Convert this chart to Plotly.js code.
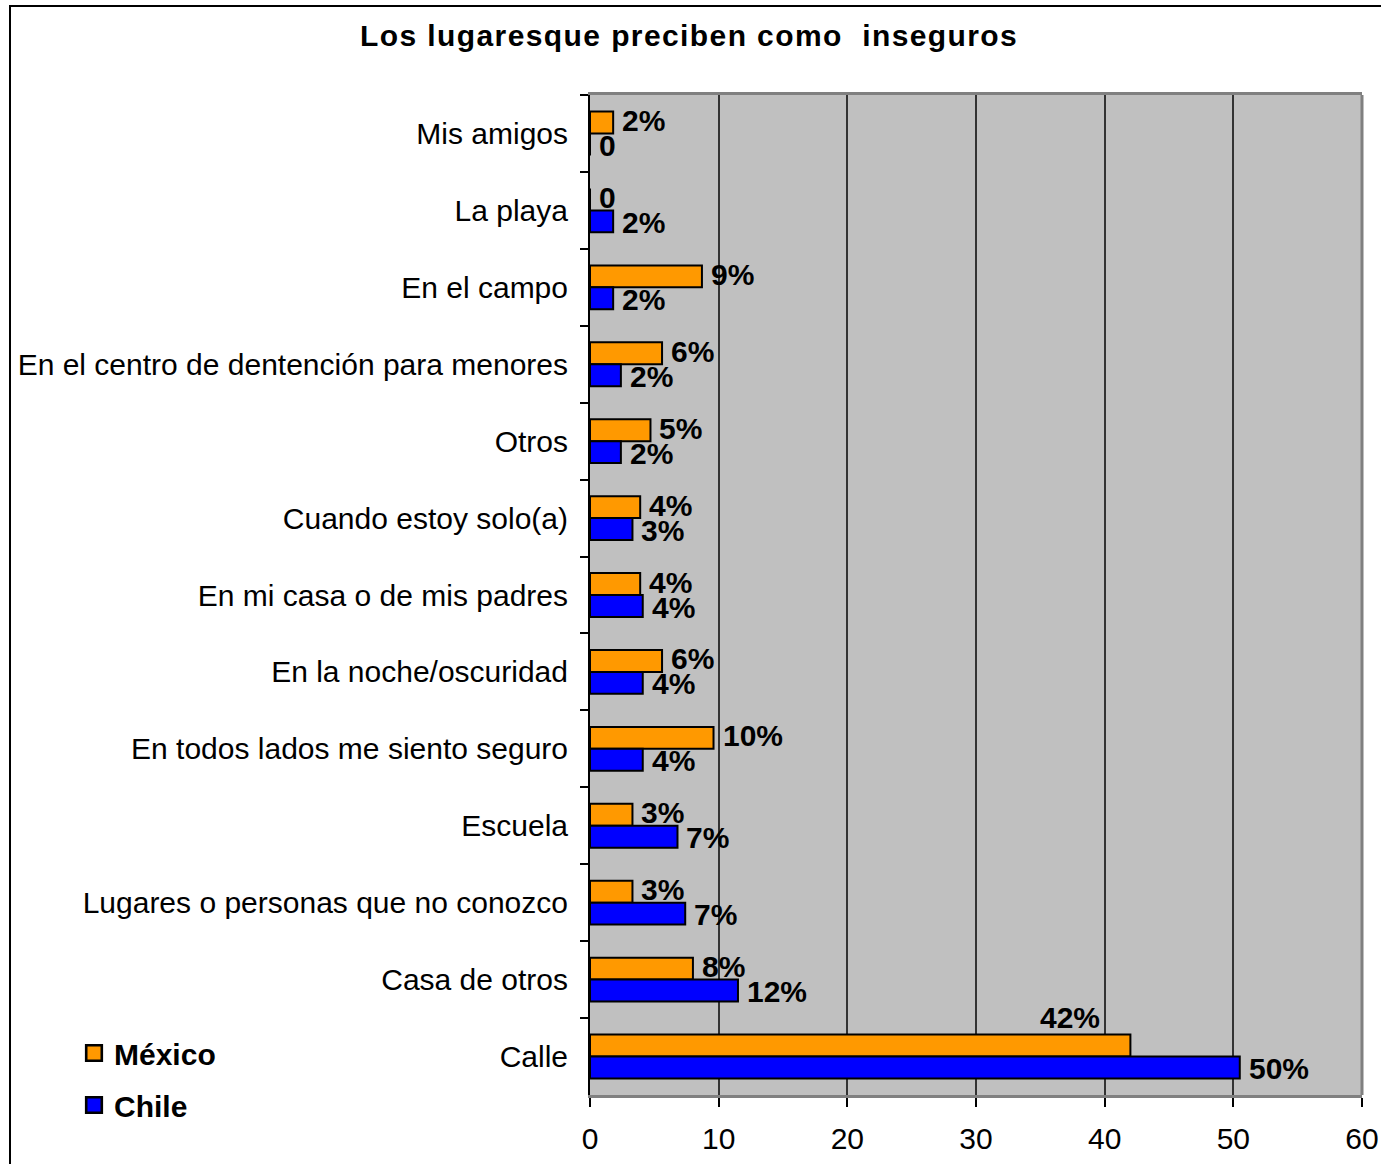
<!DOCTYPE html>
<html>
<head>
<meta charset="utf-8">
<script src="https://cdn.plot.ly/plotly-3.0.1.min.js"></script>
<style>
  html, body { margin: 0; padding: 0; background: #fff; }
  #wrap { position: relative; width: 1381px; height: 1164px; }
  #chart { width: 1381px; height: 1164px; }
  #frame { position: absolute; left: 9px; top: 5px; width: 1400px; height: 1200px;
           border-left: 2px solid #000; border-top: 2px solid #000; pointer-events: none; }
  .gtitle { letter-spacing: 1.4px; }
</style>
</head>
<body>
<div id="wrap">
  <div id="chart"></div>
  <div id="frame"></div>
</div>
<script>
const categories = [
  "Mis amigos",
  "La playa",
  "En el campo",
  "En el centro de dentención para menores",
  "Otros",
  "Cuando estoy solo(a)",
  "En mi casa o de mis padres",
  "En la noche/oscuridad",
  "En todos lados me siento seguro",
  "Escuela",
  "Lugares o personas que no conozco",
  "Casa de otros",
  "Calle"
];
const mexicoValues = [1.8, 0, 8.7, 5.6, 4.7, 3.9, 3.9, 5.6, 9.6, 3.3, 3.3, 8.0, 42.0];
const chileValues  = [0, 1.8, 1.8, 2.4, 2.4, 3.3, 4.1, 4.1, 4.1, 6.8, 7.4, 11.5, 50.5];
const mexicoLabels = ["2%", "0", "9%", "6%", "5%", "4%", "4%", "6%", "10%", "3%", "3%", "8%", "42%"];
const chileLabels  = ["0", "2%", "2%", "2%", "2%", "3%", "4%", "4%", "4%", "7%", "7%", "12%", "50%"];
const xTicks = [0, 10, 20, 30, 40, 50, 60];

const FONT = "Liberation Sans, Arial, sans-serif";
const lineStyle = { color: "#000", width: 2 };

const traces = [
  {
    type: "bar", orientation: "h", name: "México",
    y: categories, x: mexicoValues,
    marker: { color: "#FF9900", line: lineStyle },
    legend: "legend", hoverinfo: "x+y"
  },
  {
    type: "bar", orientation: "h", name: "Chile",
    y: categories, x: chileValues,
    marker: { color: "#0000FF", line: lineStyle },
    legend: "legend2", hoverinfo: "x+y"
  }
];

const annotations = [];
const labelFont = { family: FONT, size: 30, color: "#000", weight: "bold" };
categories.forEach((c, i) => {
  const isLast = i === categories.length - 1;
  annotations.push({
    x: mexicoValues[i], y: c, xref: "x", yref: "y",
    text: "<b>" + mexicoLabels[i] + "</b>", showarrow: false,
    xanchor: isLast ? "right" : "left",
    xshift: isLast ? -28 : 7,
    yshift: isLast ? 39 : 13,
    font: labelFont
  });
  annotations.push({
    x: chileValues[i], y: c, xref: "x", yref: "y",
    text: "<b>" + chileLabels[i] + "</b>", showarrow: false,
    xanchor: "left", xshift: 7, yshift: -12,
    font: labelFont
  });
});

const layout = {
  width: 1381, height: 1164,
  paper_bgcolor: "rgba(0,0,0,0)",
  plot_bgcolor: "#C0C0C0",
  margin: { l: 590, r: 19, t: 95, b: 69, pad: 0 },
  font: { family: FONT, size: 30, color: "#000" },
  title: {
    text: "<b>Los lugaresque preciben como  inseguros</b>",
    x: 0.499, xref: "container", xanchor: "center",
    y: 1 - 35 / 1164, yref: "container", yanchor: "middle",
    font: { family: FONT, size: 30, color: "#000" }
  },
  barmode: "group",
  bargap: 0.43,
  bargroupgap: 0,
  xaxis: {
    range: [0, 60],
    tickvals: xTicks,
    ticktext: xTicks.map(String),
    showgrid: true, gridcolor: "#333", gridwidth: 1.5,
    zeroline: false,
    showline: true, linecolor: "#808080", linewidth: 3, mirror: true,
    ticks: "outside", ticklen: 9, tickcolor: "#000", tickwidth: 1.5,
    ticklabelstandoff: 6,
    tickfont: { family: FONT, size: 30, color: "#000" },
    fixedrange: true
  },
  yaxis: {
    type: "category",
    range: [categories.length - 0.5, -0.5],
    autorange: false,
    tickson: "boundaries",
    ticks: "outside", ticklen: 8, tickcolor: "#000", tickwidth: 1.5,
    showgrid: false, zeroline: false,
    showline: true, linecolor: "#000", linewidth: 2,
    ticklabelstandoff: 14,
    tickfont: { family: FONT, size: 30, color: "#000" },
    fixedrange: true
  },
  shapes: [
    { type: "line", xref: "paper", yref: "paper", x0: 1, x1: 1, y0: 0, y1: 1,
      line: { color: "#808080", width: 3 }, layer: "above" }
  ],
  showlegend: true,
  legend: {
    x: (74 - 590) / 772, xanchor: "left",
    y: (1095 - 1053) / 1000, yanchor: "middle",
    bgcolor: "rgba(0,0,0,0)", borderwidth: 0,
    font: { family: FONT, size: 30, color: "#000", weight: "bold" },
    itemclick: false, itemdoubleclick: false
  },
  legend2: {
    x: (74 - 590) / 772, xanchor: "left",
    y: (1095 - 1105) / 1000, yanchor: "middle",
    bgcolor: "rgba(0,0,0,0)", borderwidth: 0,
    font: { family: FONT, size: 30, color: "#000", weight: "bold" },
    itemclick: false, itemdoubleclick: false
  },
  annotations: annotations
};

Plotly.newPlot("chart", traces, layout, { displayModeBar: false }).then(() => {
  document.querySelectorAll(".legendpoints path").forEach(p => {
    const t = p.getAttribute("transform") || "";
    p.setAttribute("transform", (t + " scale(1.3)").trim());
  });
});
</script>
</body>
</html>
